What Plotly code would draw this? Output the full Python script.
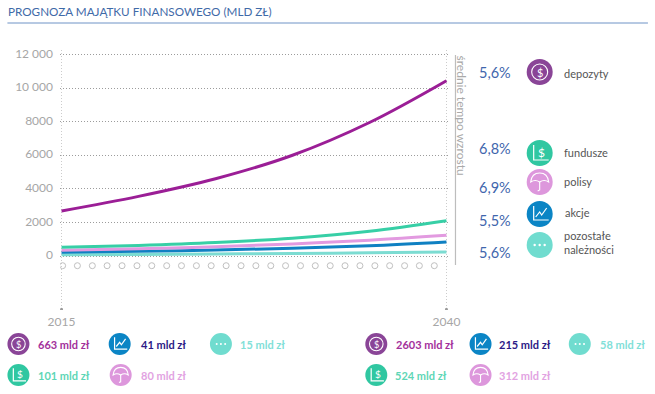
import plotly.graph_objects as go

years = [2015, 2020, 2025, 2030, 2035, 2040]
depozyty = [2680, 3550, 4600, 6000, 7950, 10440]
fundusze = [518, 630, 800, 1060, 1470, 2100]
polisy = [340, 430, 550, 720, 945, 1240]
akcje = [225, 280, 355, 460, 610, 834]
pozostale = [70, 90, 120, 150, 190, 238]

tick_vals = [0, 2000, 4000, 6000, 8000, 10000, 12000]
tick_text = ["0", "2000", "4000", "6000", "8000", "10 000", "12 000"]
x_ticks = [2015, 2040]
dot_years = [2015.07, 2016.03, 2017.0, 2017.96, 2018.93, 2019.9, 2020.86, 2021.83, 2022.79, 2023.76,
             2024.72, 2025.69, 2026.66, 2027.62, 2028.59, 2029.55, 2030.52, 2031.48, 2032.45, 2033.41,
             2034.38, 2035.35, 2036.31, 2037.28, 2038.24, 2039.21]

names = ["depozyty", "fundusze", "polisy", "akcje", "pozostałe<br>należności"]
rates = ["5,6%", "6,8%", "6,9%", "5,5%", "5,6%"]
left_totals = ["663 mld zł", "41 mld zł", "15 mld zł", "101 mld zł", "80 mld zł"]
right_totals = ["2603 mld zł", "215 mld zł", "58 mld zł", "524 mld zł", "312 mld zł"]

W, H = 655, 394
L, R, T, B = 62, 446, 50, 310
y_per_px = 1 / 0.01679
y_top = (256 - T) * y_per_px
y_bot = (256 - B) * y_per_px
X0, X1 = 2014.9, 2040.1
px_l = L - 0.1 * 15.36
px_r = R + 0.1 * 15.36

def px(x):
    return (x - px_l) / (px_r - px_l)

def py(y):
    return (B - y) / (B - T)

COL = dict(purple="#9b1e96", green="#37cfa6", pink="#e29ae0", blue="#0f80c2", cyan="#7cdcd2")
ICON = dict(purple="#8a4597", green="#30c7a1", pink="#dd97dc", blue="#0b85c5", cyan="#70dccf")
FONT = "Lato"

fig = go.Figure()
for vals, c in zip([pozostale, akcje, polisy, fundusze, depozyty],
                   ["cyan", "blue", "pink", "green", "purple"]):
    fig.add_trace(go.Scatter(x=years, y=vals, mode="lines",
                             line=dict(color=COL[c], width=3, shape="spline"), hoverinfo="skip"))

fig.add_trace(go.Scatter(x=dot_years, y=[-578] * len(dot_years), mode="markers",
                         marker=dict(symbol="circle-open", size=6, color="#c0c0c0", line=dict(width=1))))
fig.add_trace(go.Scatter(x=x_ticks, y=[y_bot + 40] * 2, mode="markers",
                         marker=dict(symbol="circle", size=3, color="#9a9a9a")))

shapes, ann = [], []

def text(x, y, s, size, color, anchor="left", weight=None, angle=None):
    ann.append(dict(x=px(x), y=py(y), xref="paper", yref="paper", text=s, showarrow=False,
                    xanchor=anchor, yanchor="middle", textangle=angle, align="left",
                    font=dict(family=FONT, size=size, color=color, weight=weight)))

def seg(d, x, y, w=1.2, fill=None):
    shapes.append(dict(type="path", path=d, xref="paper", yref="paper",
                       xsizemode="pixel", ysizemode="pixel", xanchor=px(x), yanchor=py(y),
                       line=dict(color="white", width=w), fillcolor=fill))

def icon(kind, x, y, r):
    color = ICON[kind]
    shapes.append(dict(type="circle", xref="paper", yref="paper", xsizemode="pixel", ysizemode="pixel",
                       xanchor=px(x), yanchor=py(y), x0=-r, x1=r, y0=-r, y1=r,
                       fillcolor=color, line=dict(width=0)))
    k = r / 13
    def P(*pts):
        return "M" + " L".join(f"{a*k:.1f},{b*k:.1f}" for a, b in pts)
    if kind == "purple":
        q = 8 * k
        shapes.append(dict(type="circle", xref="paper", yref="paper", xsizemode="pixel", ysizemode="pixel",
                           xanchor=px(x), yanchor=py(y), x0=-q, x1=q, y0=-q, y1=q,
                           line=dict(color="white", width=1.1)))
        text(x, y, "$", 11 * k, "white", "center")
    elif kind == "green":
        seg(P((-6, 8), (-6, -7), (9, -7)), x, y)
        text(x + 1.5 * k, y - 1 * k, "$", 12 * k, "white", "center")
    elif kind == "blue":
        seg(P((-6, 8), (-6, -6), (9, -6)), x, y)
        seg(P((-4, -3), (0, 2), (2, -1), (7, 6)), x, y)
    elif kind == "pink":
        d = (f"M{-9*k:.1f},{0*k:.1f} Q{-8*k:.1f},{9*k:.1f} 0,{9*k:.1f} Q{8*k:.1f},{9*k:.1f} {9*k:.1f},{0*k:.1f} "
             f"Q{4.5*k:.1f},{3*k:.1f} 0,{0*k:.1f} Q{-4.5*k:.1f},{3*k:.1f} {-9*k:.1f},{0*k:.1f} Z")
        seg(d, x, y, 1.1)
        seg(P((0, 0), (0, -8), (-2, -9)), x, y, 1.1)
    elif kind == "cyan":
        for dx in (-5, 0, 5):
            q = 1.2 * k
            shapes.append(dict(type="circle", xref="paper", yref="paper", xsizemode="pixel", ysizemode="pixel",
                               xanchor=px(x), yanchor=py(y), x0=(dx*k)-q, x1=(dx*k)+q, y0=-q, y1=q,
                               fillcolor="white", line=dict(width=0)))

# title
text(7, 11, "PROGNOZA MAJĄTKU FINANSOWEGO (MLD ZŁ)", 11.7, "#3f6aa8")
shapes.append(dict(type="line", xref="paper", yref="paper", x0=px(8), x1=px(647), y0=py(23), y1=py(23),
                   line=dict(color="#6f93c6", width=1)))

# vertical rule and its caption
shapes.append(dict(type="line", xref="paper", yref="paper", x0=px(455), x1=px(455), y0=py(55), y1=py(265),
                   line=dict(color="#bdbdbd", width=1.2)))
text(462, 116, "średnie tempo wzrostu", 12, "#a9a9a9", "center", angle=90)

# right column
kinds = ["purple", "green", "pink", "blue", "cyan"]
rate_y = [72, 148, 187, 220, 252]
icon_y = [72, 153, 182, 214, 245]
for k_, r_, ry, iy in zip(kinds, rates, rate_y, icon_y):
    text(476, ry, r_, 14.5, "#3f66ad")
    icon(k_, 539, iy, 13)
text(561, 73, names[0], 11, "#555555")
text(561, 152, names[1], 11, "#555555")
text(561, 181, names[2], 11, "#555555")
text(562, 212, names[3], 11, "#555555")
text(561, 242.5, names[4], 11, "#555555")

# bottom totals
order = ["purple", "blue", "cyan", "green", "pink"]
tcol = dict(purple="#a3309b", blue="#2c1a86", cyan="#82e0d8", green="#5ed6b6", pink="#e2a3e2")
lx = [(19, 344, 37), (120, 344, 139), (221, 344, 238), (19, 375, 37), (121, 375, 139)]
rx = [(376, 344, 394), (480, 344, 496), (579, 344, 597), (376, 375, 393), (480, 375, 496)]
for pos, totals in ((lx, left_totals), (rx, right_totals)):
    for (ix, iy, tx), t, k_ in zip(pos, totals, order):
        icon(k_, ix, iy, 11)
        text(tx, iy, t, 11, tcol[k_], weight=700)

fig.update_layout(
    width=W, height=H, autosize=False, showlegend=False,
    paper_bgcolor="white", plot_bgcolor="white",
    margin=dict(l=px_l, r=W - px_r, t=T, b=H - B),
    font=dict(family=FONT, color="#a9a9a9"),
    xaxis=dict(range=[X0, X1], tickvals=x_ticks, showgrid=True, griddash="1px,2px", gridcolor="#cccccc",
               gridwidth=1, zeroline=False, showline=False, ticks="", ticklabelstandoff=3,
               tickfont=dict(size=12, color="#a6a6a6")),
    yaxis=dict(range=[y_bot, y_top], tickvals=tick_vals, ticktext=tick_text, showgrid=True, griddash="1px,2px",
               gridcolor="#9c9c9c", gridwidth=1, zeroline=False, showline=False, ticks="", ticklabelstandoff=6,
               ticklabelshift=-1, tickfont=dict(size=12, color="#a6a6a6")),
    shapes=shapes, annotations=ann,
)
fig.write_html("out.html", config={"displayModeBar": False},
               post_script="document.body.style.margin='0';document.body.style.overflow='hidden';")
